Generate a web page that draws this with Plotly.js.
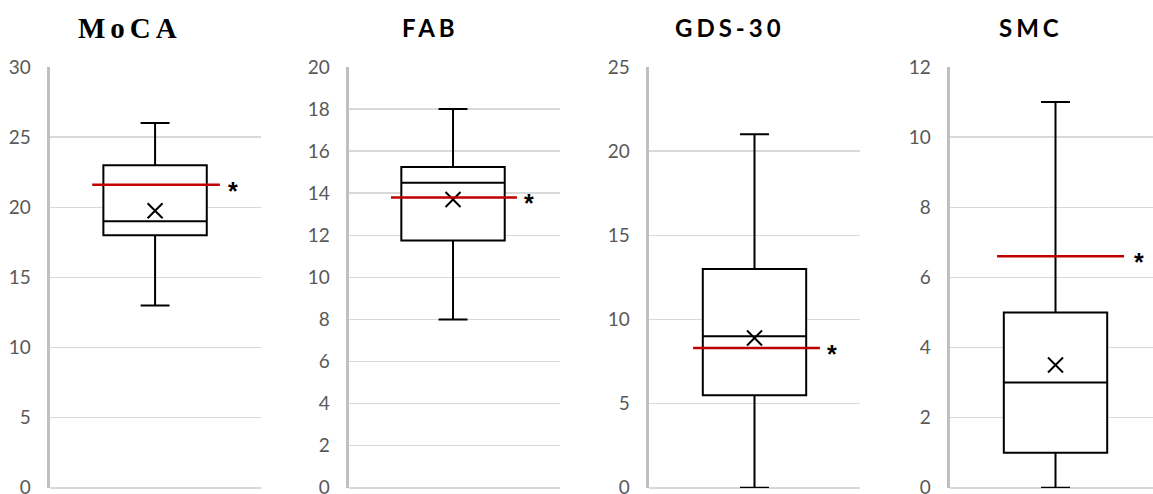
<!DOCTYPE html>
<html>
<head>
<meta charset="utf-8">
<script src="https://cdn.plot.ly/plotly-3.0.1.min.js"></script>
<style>
  html, body { margin: 0; padding: 0; background: #fff; }
  #chart { width: 1153px; height: 494px; }
  .annotation[data-index="0"] text { letter-spacing: 5px; }
  .annotation[data-index="1"] text,
  .annotation[data-index="2"] text,
  .annotation[data-index="3"] text { letter-spacing: 4px; }
</style>
</head>
<body>
<div id="chart"></div>
<script>
// ---- data ----
const panels      = ['MoCA', 'FAB', 'GDS-30', 'SMC'];
const lowerVals   = [13, 8, 0, 0];
const q1Vals      = [18, 11.75, 5.5, 1];
const medianVals  = [19, 14.5, 9, 3];
const q3Vals      = [23, 15.25, 13, 5];
const upperVals   = [26, 18, 21, 11];
const meanVals    = [19.75, 13.7, 8.9, 3.5];
const refVals     = [21.6, 13.8, 8.3, 6.6];
const yMaxVals    = [30, 20, 25, 12];
const yStepVals   = [5, 2, 5, 2];

// ---- layout placement (not data) ----
const W = 1153, H = 494;
const plotLeft   = [50, 349, 649, 950];
const plotWidth  = 211;
const boxCenter  = [0.498, 0.493, 0.5, 0.5];
const refStart   = [0.2, 0.199, 0.209, 0.223];
const refEnd     = [0.805, 0.796, 0.81, 0.825];
const starX      = [0.868, 0.852, 0.868, 0.897];
const titleX     = [128, 428, 728, 1029];
const titleFont  = [
  {family: 'Liberation Serif, Times New Roman, serif', size: 29, color: '#000', weight: 700},
  {family: 'Lato, Open Sans, sans-serif', size: 24, color: '#000', weight: 700},
  {family: 'Lato, Open Sans, sans-serif', size: 24, color: '#000', weight: 700},
  {family: 'Lato, Open Sans, sans-serif', size: 24, color: '#000', weight: 700}
];

const yBottom = 488, yTop = 67;
const yDomain = [(H - yBottom) / H, (H - yTop) / H];

const traces = [];
const layout = {
  width: W, height: H,
  margin: {l: 0, r: 0, t: 0, b: 0},
  paper_bgcolor: '#fff', plot_bgcolor: '#fff',
  showlegend: false,
  annotations: []
};

panels.forEach((name, i) => {
  const k = i === 0 ? '' : String(i + 1);
  const xa = 'x' + k, ya = 'y' + k;
  const x0 = plotLeft[i];
  const x1 = Math.min(W, x0 + plotWidth);
  const xr = (x1 - x0) / plotWidth;

  layout['xaxis' + k] = {
    domain: [x0 / W, x1 / W],
    range: [0, xr],
    showgrid: false, zeroline: false, showline: false,
    showticklabels: false, ticks: '', fixedrange: true,
    anchor: ya
  };
  layout['yaxis' + k] = {
    domain: yDomain,
    range: [-yMaxVals[i] * 0.0005, yMaxVals[i]],
    dtick: yStepVals[i], tick0: 0,
    showgrid: true, gridcolor: '#d9d9d9', gridwidth: 1.5,
    zeroline: true, zerolinecolor: '#d9d9d9', zerolinewidth: 1.5,
    showline: true, linecolor: '#c0c0c0', linewidth: 3.5,
    ticks: '', ticklabelstandoff: 12,
    ticklabeloverflow: 'allow',
    tickfont: {family: 'Lato, Open Sans, sans-serif', size: 19, color: '#595959'},
    fixedrange: true,
    anchor: xa
  };

  traces.push({
    type: 'box', xaxis: xa, yaxis: ya,
    x: [boxCenter[i]],
    lowerfence: [lowerVals[i]], q1: [q1Vals[i]], median: [medianVals[i]],
    q3: [q3Vals[i]], upperfence: [upperVals[i]],
    width: 0.49, whiskerwidth: 0.28,
    line: {color: '#000', width: 2},
    fillcolor: '#fff',
    hoverinfo: 'skip'
  });
  traces.push({
    type: 'scatter', mode: 'markers', xaxis: xa, yaxis: ya,
    x: [boxCenter[i]], y: [meanVals[i]],
    marker: {symbol: 'x-thin-open', size: 15, color: '#000', line: {color: '#000', width: 2}},
    hoverinfo: 'skip'
  });
  traces.push({
    type: 'scatter', mode: 'lines', xaxis: xa, yaxis: ya,
    x: [refStart[i], refEnd[i]], y: [refVals[i], refVals[i]],
    line: {color: '#c00000', width: 2.5},
    hoverinfo: 'skip'
  });
});

// titles first (indices 0..3 for letter-spacing css)
panels.forEach((name, i) => {
  layout.annotations.push({
    text: '<b>' + name + '</b>',
    xref: 'paper', yref: 'paper',
    x: (titleX[i] + 2) / W, y: (H - 28) / H,
    xanchor: 'center', yanchor: 'middle',
    showarrow: false,
    font: titleFont[i]
  });
});
panels.forEach((name, i) => {
  const k = i === 0 ? '' : String(i + 1);
  layout.annotations.push({
    text: '<b>*</b>',
    xref: 'x' + k, yref: 'y' + k,
    x: starX[i], y: refVals[i],
    xanchor: 'center', yanchor: 'middle',
    yshift: -6,
    showarrow: false,
    font: {family: 'Liberation Sans, Arial, sans-serif', size: 25, color: '#000'}
  });
});

Plotly.newPlot('chart', traces, layout, {staticPlot: true, displayModeBar: false});
</script>
</body>
</html>
